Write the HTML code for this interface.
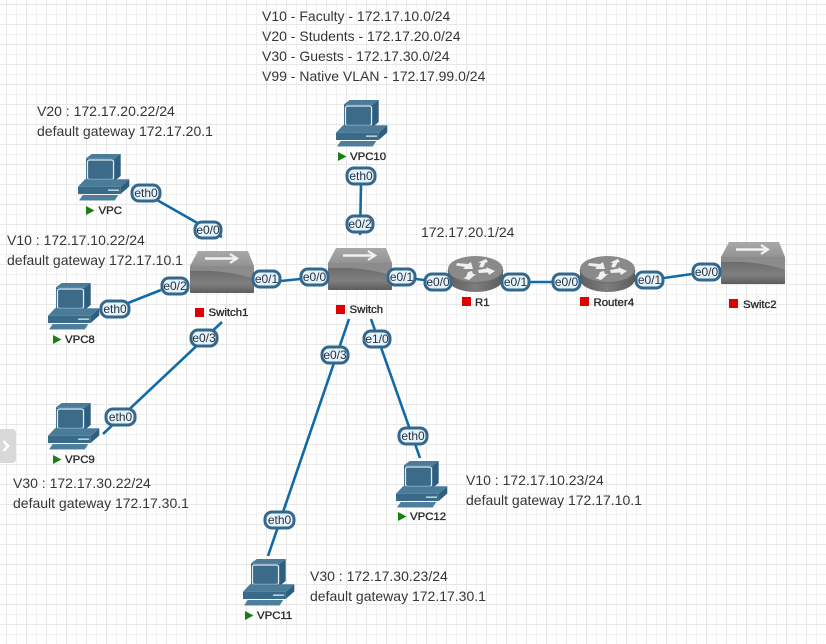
<!DOCTYPE html>
<html><head><meta charset="utf-8"><style>
html,body{margin:0;padding:0;background:#fff;width:826px;height:644px;overflow:hidden}
svg{display:block;font-family:"Liberation Sans",sans-serif}
.a{font-size:14px;fill:#363636}
.p{font-size:12px;fill:#27323b;text-anchor:middle}
.n{font-size:11.4px;fill:#2b2b2b;stroke:#2b2b2b;stroke-width:.35}
.l{stroke:#0f6aa8;stroke-width:2.6;fill:none}
.b{fill:#e6f3fc;stroke:#33688c;stroke-width:3}
</style></head><body>
<svg width="826" height="644" viewBox="0 0 826 644" xmlns="http://www.w3.org/2000/svg">
<defs>
<pattern id="g" x="6" y="4" width="20" height="20" patternUnits="userSpaceOnUse">
<path d="M10.5 0V20M0 10.5H20" stroke="#f1f1f1" stroke-width="1" fill="none"/>
<path d="M.5 0V20M0 .5H20" stroke="#e7e7e7" stroke-width="1" fill="none"/>
</pattern>
<linearGradient id="st" x1="0" y1="0" x2="0" y2="1"><stop offset="0" stop-color="#a9a9a9"/><stop offset="1" stop-color="#939393"/></linearGradient>
<linearGradient id="sf" x1="0" y1="0" x2="0" y2="1"><stop offset="0" stop-color="#646464"/><stop offset=".65" stop-color="#808080"/><stop offset="1" stop-color="#5c5c5c"/></linearGradient>
<linearGradient id="rb" x1="0" y1="0" x2="1" y2="0"><stop offset="0" stop-color="#5f5f5f"/><stop offset=".5" stop-color="#7d7d7d"/><stop offset="1" stop-color="#5c5c5c"/></linearGradient>
<symbol id="pc" width="52" height="48" viewBox="0 0 52 48" overflow="visible">
<path d="M8 5.3 13.7 1H42.7L37 5.3Z" fill="#4a7c9a"/>
<path d="M37 5.3 42.7 1V23L37 27.7Z" fill="#2f5f7e"/>
<rect x="8" y="5.3" width="29" height="22.4" fill="#3c6b8a"/>
<rect x="9.5" y="7" width="26" height="19.5" rx="2" fill="#3c6b8a" stroke="#e0ebf2" stroke-width="1.2"/>
<path d="M0 33.7 7 26.3H51.3L42.7 33.7Z" fill="#4a7c9a"/>
<rect x="0" y="33.7" width="42.7" height="7.3" fill="#3a6a89"/>
<path d="M42.7 33.7 51.3 26.3V33.5L42.7 41Z" fill="#2f5f7e"/>
<rect x="30" y="36.4" width="11" height="1.6" fill="#b9cfdd"/>
<path d="M1.3 47 4.7 42H40.3L37 47Z" fill="#4d7f9d"/>
<path d="M1.3 47H37V48H1.3Z" fill="#a9c3d3"/>
</symbol>
<symbol id="sw" width="64" height="43" viewBox="0 0 64 43" overflow="visible">
<path d="M8 1H58L64 16H0Z" fill="url(#st)"/>
<rect x="0" y="16" width="64" height="27" rx="1" fill="url(#sf)"/>
<path d="M0 16H64V29C46 22 20 20 0 21Z" fill="#929292" opacity=".85"/>
<path d="M15 8.5H45" stroke="#f2f2f2" stroke-width="2.6" fill="none"/>
<path d="M40 4 47 8.5 40 13" stroke="#f2f2f2" stroke-width="2.2" fill="none"/>
</symbol>
<symbol id="rt" width="55" height="36" viewBox="0 0 55 36" overflow="visible">
<path d="M0 13V23C0 30 12 36 27.500 36S55 30 55 23V13Z" fill="url(#rb)"/>
<ellipse cx="27.500" cy="13" rx="27.500" ry="13" fill="#8a8a8a"/>
<path d="M0 14C1 21 12 27 27.500 27S54 21 55 14" fill="none" stroke="#6d6d6d" stroke-width="1"/>
<g fill="#f0f0f0">
<path d="M9 7 20 8 23 6 25 13 15 13 17 11 8 9.500Z"/>
<path d="M31 11 33 7 30 6.500 38 3 40 6 37.500 6.500 35 11.500Z"/>
<path d="M30 14 39 12.500 38 11 47 15 41 19 40 16.500 31 17Z"/>
<path d="M24 15 25 18 28 18 21 24 15 22 18 21 20 16Z" />
</g>
</symbol>
</defs>
<rect width="826" height="644" fill="#fff"/>
<rect width="826" height="644" fill="url(#g)"/>

<g class="l">
<path d="M157 200 222 237"/>
<path d="M128 303 161 290"/>
<path d="M281 281 300 279"/>
<path d="M361 185 360 235"/>
<path d="M416 279 424 280"/>
<path d="M530 282H552"/>
<path d="M664 278 692 274"/>
<path d="M222 322 103 434"/>
<path d="M349 319 268 556"/>
<path d="M371 319 420 458"/>
</g>

<use href="#pc" x="78" y="153"/>
<use href="#pc" x="48" y="282"/>
<use href="#pc" x="336" y="99"/>
<use href="#pc" x="48" y="402"/>
<use href="#pc" x="243" y="558"/>
<use href="#pc" x="396" y="460"/>

<use href="#sw" x="190" y="250"/>
<use href="#sw" x="328" y="247"/>
<use href="#sw" x="721" y="241"/>
<use href="#rt" x="448" y="256"/>
<use href="#rt" x="580" y="256"/>

<g fill="#1a7f12">
<path d="M86 206 94.500 210.500 86 215Z"/>
<path d="M53 335 61.500 339.500 53 344Z"/>
<path d="M338 152 346.500 156.500 338 161Z"/>
<path d="M53 455 61.500 459.500 53 464Z"/>
<path d="M245 611 253.500 615.500 245 620Z"/>
<path d="M398 512 406.500 516.500 398 521Z"/>
</g>
<g fill="#e00000">
<rect x="195" y="308" width="9" height="9"/>
<rect x="336" y="305" width="9" height="9"/>
<rect x="462" y="297" width="9" height="9"/>
<rect x="580" y="297" width="9" height="9"/>
<rect x="729" y="299" width="9" height="9"/>
</g>
<g class="n">
<text x="98.500" y="214">VPC</text>
<text x="65" y="343">VPC8</text>
<text x="350" y="160">VPC10</text>
<text x="65" y="463">VPC9</text>
<text x="257" y="619">VPC11</text>
<text x="410" y="520">VPC12</text>
<text x="208.500" y="316">Switch1</text>
<text x="349.500" y="313">Switch</text>
<text x="475" y="306">R1</text>
<text x="593.500" y="306">Router4</text>
<text x="743" y="308">Switc2</text>
</g>

<g class="b">
<rect x="132" y="185" width="28" height="16" rx="7"/>
<rect x="195" y="222" width="26" height="16" rx="7"/>
<rect x="162" y="278" width="26" height="16" rx="7"/>
<rect x="253" y="271" width="27" height="16" rx="7"/>
<rect x="101" y="301" width="28" height="16" rx="7"/>
<rect x="191" y="330" width="26" height="16" rx="7"/>
<rect x="347" y="168" width="28" height="16" rx="7"/>
<rect x="347" y="216" width="26" height="16" rx="7"/>
<rect x="301" y="269" width="27" height="16" rx="7"/>
<rect x="388" y="269" width="27" height="16" rx="7"/>
<rect x="425" y="274" width="26" height="16" rx="7"/>
<rect x="502" y="274" width="27" height="16" rx="7"/>
<rect x="553" y="274" width="27" height="16" rx="7"/>
<rect x="636" y="272" width="27" height="16" rx="7"/>
<rect x="693" y="264" width="27" height="16" rx="7"/>
<rect x="106" y="409" width="29" height="16" rx="7"/>
<rect x="322" y="347" width="26" height="16" rx="7"/>
<rect x="364" y="331" width="26" height="16" rx="7"/>
<rect x="399" y="428" width="28" height="16" rx="7"/>
<rect x="265" y="512" width="29" height="16" rx="7"/>
</g>
<g class="p">
<text x="146" y="197">eth0</text>
<text x="208" y="234">e0/0</text>
<text x="175" y="290">e0/2</text>
<text x="266.500" y="283">e0/1</text>
<text x="115" y="313">eth0</text>
<text x="204" y="342">e0/3</text>
<text x="361" y="180">eth0</text>
<text x="360" y="228">e0/2</text>
<text x="314.500" y="281">e0/0</text>
<text x="401.500" y="281">e0/1</text>
<text x="438" y="286">e0/0</text>
<text x="515.500" y="286">e0/1</text>
<text x="566.500" y="286">e0/0</text>
<text x="649.500" y="284">e0/1</text>
<text x="706.500" y="276">e0/0</text>
<text x="120.500" y="421">eth0</text>
<text x="335" y="359">e0/3</text>
<text x="377" y="343">e1/0</text>
<text x="413" y="440">eth0</text>
<text x="279.500" y="524">eth0</text>
</g>

<g class="a">
<text x="262" y="21">V10 - Faculty - 172.17.10.0/24</text>
<text x="262" y="41">V20 - Students - 172.17.20.0/24</text>
<text x="262" y="61">V30 - Guests - 172.17.30.0/24</text>
<text x="262" y="81">V99 - Native VLAN - 172.17.99.0/24</text>
<text x="37" y="116">V20 : 172.17.20.22/24</text>
<text x="37" y="136">default gateway 172.17.20.1</text>
<text x="7" y="245">V10 : 172.17.10.22/24</text>
<text x="7" y="265">default gateway 172.17.10.1</text>
<text x="13" y="488">V30 : 172.17.30.22/24</text>
<text x="13" y="508">default gateway 172.17.30.1</text>
<text x="310" y="581">V30 : 172.17.30.23/24</text>
<text x="310" y="601">default gateway 172.17.30.1</text>
<text x="466" y="485">V10 : 172.17.10.23/24</text>
<text x="466" y="505">default gateway 172.17.10.1</text>
<text x="421" y="237">172.17.20.1/24</text>
</g>

<path d="M0 429H12Q16 429 16 433V459Q16 463 12 463H0Z" fill="#d8d8d8"/>
<path d="M3.500 441 8 446 3.500 451" fill="none" stroke="#fff" stroke-width="2.600"/>
</svg>
</body></html>
